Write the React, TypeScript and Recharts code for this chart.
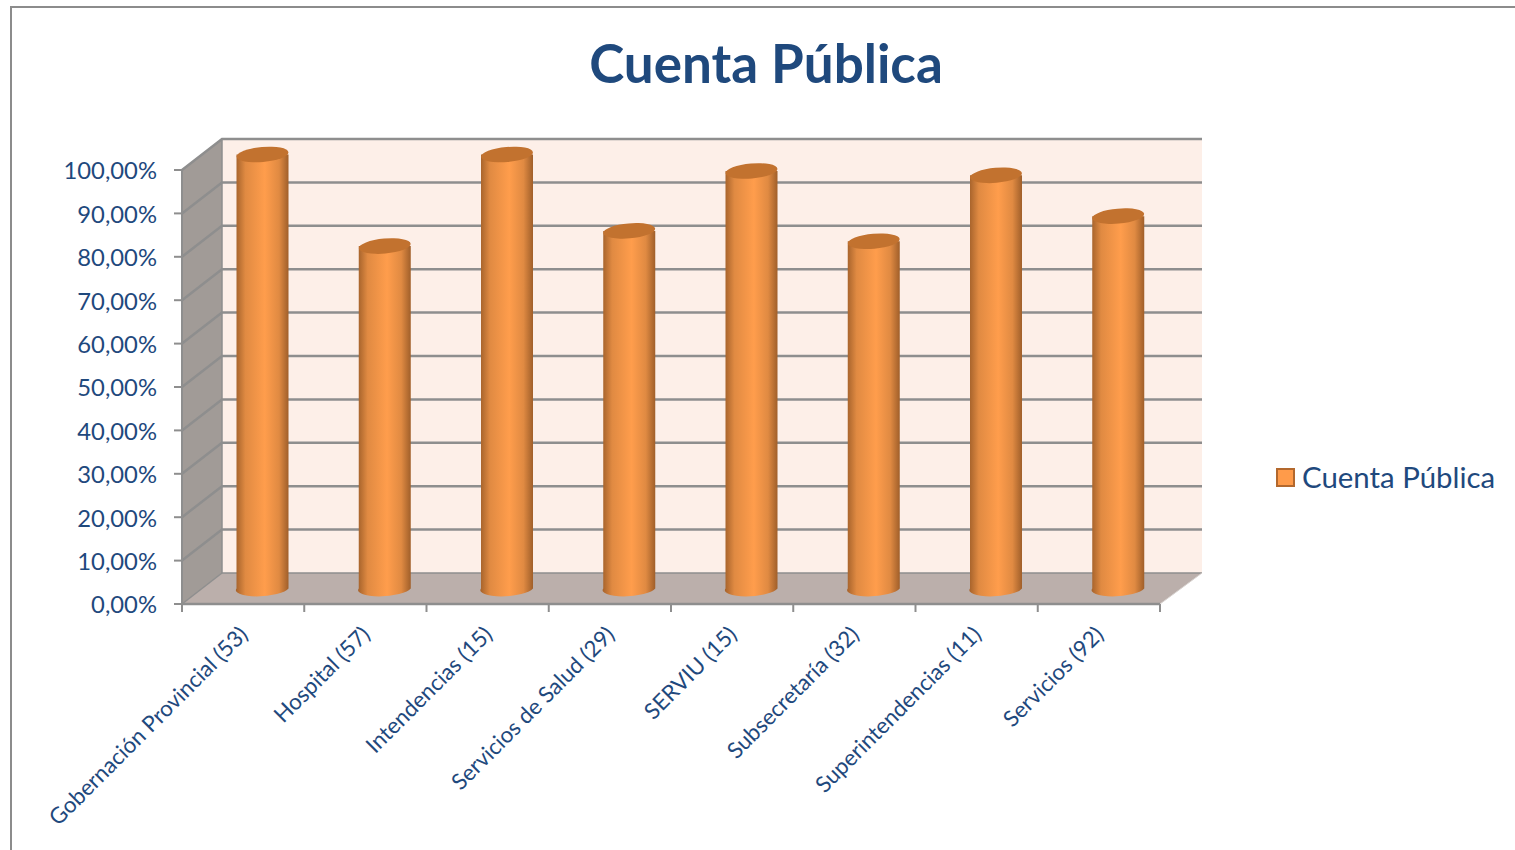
import React from "react";
import {
  BarChart,
  Bar,
  XAxis,
  YAxis,
  ReferenceArea,
} from "recharts";

const categories = [
  "Gobernación Provincial (53)",
  "Hospital (57)",
  "Intendencias (15)",
  "Servicios de Salud (29)",
  "SERVIU (15)",
  "Subsecretaría (32)",
  "Superintendencias (11)",
  "Servicios (92)",
];
const values = [100, 78.9, 100, 82.4, 96.2, 80, 95.2, 85.8];
const yTicks = [0, 10, 20, 30, 40, 50, 60, 70, 80, 90, 100];
const seriesName = "Cuenta Pública";

const data = categories.map((name, i) => ({ name, value: values[i] }));

const BLUE = "#1F497D";
const GRID = "#8E8E8E";
const FONT = "Lato, 'Open Sans', sans-serif";
const DEPTH_X = 40;
const DEPTH_Y = 31;
const PLOT_W = 978;
const BAND = PLOT_W / categories.length;

// side wall, floor, back wall and grid lines of the 3d box
const Walls = ({ x, y, width, height }: any) => {
  const b = y + height;
  const r = x + width;
  return (
    <g>
      <polygon
        points={`${x + DEPTH_X},${y - DEPTH_Y} ${r + DEPTH_X + 2},${y - DEPTH_Y} ${r + DEPTH_X + 2},${b - DEPTH_Y} ${x + DEPTH_X},${b - DEPTH_Y}`}
        fill="#FDEFE8"
      />
      <polygon
        points={`${x},${y} ${x + DEPTH_X},${y - DEPTH_Y} ${x + DEPTH_X},${b - DEPTH_Y} ${x},${b}`}
        fill="#A19B97"
      />
      <polygon
        points={`${x},${b} ${x + DEPTH_X},${b - DEPTH_Y} ${r + DEPTH_X + 2},${b - DEPTH_Y} ${r},${b}`}
        fill="#BBAFAB"
      />
      {yTicks.slice(1).map((t) => {
        const ty = b - (height * t) / 100;
        return (
          <polyline
            key={t}
            points={`${x},${ty} ${x + DEPTH_X},${ty - DEPTH_Y} ${r + DEPTH_X + 2},${ty - DEPTH_Y}`}
            fill="none"
            stroke={GRID}
            strokeWidth={2.5}
          />
        );
      })}
      <line x1={x + DEPTH_X} y1={y - DEPTH_Y} x2={x + DEPTH_X} y2={b - DEPTH_Y} stroke={GRID} strokeWidth={1.5} />
      <line x1={x + DEPTH_X} y1={b - DEPTH_Y} x2={r + DEPTH_X + 2} y2={b - DEPTH_Y} stroke={GRID} strokeWidth={1.5} />
      <line x1={x} y1={b} x2={x + DEPTH_X} y2={b - DEPTH_Y} stroke={GRID} strokeWidth={1.5} />
      <line x1={r} y1={b} x2={r + DEPTH_X + 2} y2={b - DEPTH_Y} stroke="#D8D2CF" strokeWidth={1} />
    </g>
  );
};

const Cylinder = ({ x, y, width, height }: any) => {
  const left = x + DEPTH_X / 2 - 0.5;
  const right = left + width;
  const cx = left + width / 2;
  const top = y - DEPTH_Y / 2;
  const bottom = y + height - DEPTH_Y / 2;
  const rx = width / 2;
  const ry = 7.5;
  return (
    <g>
      <path
        d={`M${left},${top} L${left},${bottom} A${rx},${ry} -4 0 0 ${right},${bottom} L${right},${top} Z`}
        fill="url(#cylinder)"
      />
      <ellipse
        cx={cx}
        cy={top}
        rx={rx}
        ry={ry}
        fill="#C2722F"
        transform={`rotate(-5 ${cx} ${top})`}
      />
    </g>
  );
};

const XTick = ({ x, y, payload, index }: any) => (
  <g>
    <line x1={x - BAND / 2} y1={604} x2={x - BAND / 2} y2={612} stroke={GRID} strokeWidth={2} />
    {index === categories.length - 1 && (
      <line x1={x + BAND / 2} y1={604} x2={x + BAND / 2} y2={612} stroke={GRID} strokeWidth={2} />
    )}
    <text
      x={x + 2}
      y={y + 20}
      transform={`rotate(-45 ${x + 2} ${y + 20})`}
      textAnchor="end"
      dominantBaseline="middle"
      fontFamily={FONT}
      fontSize={22.3}
      fill={BLUE}
    >
      {payload.value}
    </text>
  </g>
);

const LegendBox = () => (
  <div
    style={{
      position: "absolute",
      left: 1276,
      top: 457,
      display: "flex",
      alignItems: "center",
      fontFamily: FONT,
      fontSize: 29.4,
      lineHeight: "40px",
      color: BLUE,
      whiteSpace: "nowrap",
    }}
  >
    <span
      style={{
        display: "inline-block",
        width: 15,
        height: 15,
        marginRight: 7,
        background: "#FF9B4A",
        border: "2px solid #B3682D",
      }}
    />
    {seriesName}
  </div>
);

export default function App() {
  return (
    <div style={{ position: "absolute", left: 0, top: 0, width: 1515, height: 850, overflow: "hidden", background: "#fff" }}>
      <div
        style={{
          position: "absolute",
          left: 10,
          top: 6,
          width: 1520,
          height: 860,
          borderLeft: "2px solid #8C8C8C",
          borderTop: "2px solid #8C8C8C",
        }}
      />
      <div
        style={{
          position: "absolute",
          left: 0,
          width: 1532,
          top: 28,
          textAlign: "center",
          fontFamily: FONT,
          fontWeight: 700,
          fontSize: 53,
          lineHeight: "70px",
          color: BLUE,
        }}
      >
        Cuenta Pública
      </div>
      <div style={{ position: "absolute", left: 0, top: 0 }}>
        <BarChart
          width={1515}
          height={850}
          data={data}
          margin={{ top: 170, right: 355, left: 0, bottom: 0 }}
        >
          <defs>
            <linearGradient id="cylinder" x1="0" y1="0" x2="1" y2="0">
              <stop offset="0" stopColor="#A5622B" />
              <stop offset="0.18" stopColor="#E08A42" />
              <stop offset="0.55" stopColor="#FF9D4C" />
              <stop offset="0.82" stopColor="#E08A42" />
              <stop offset="1" stopColor="#A05F2A" />
            </linearGradient>
          </defs>
          <XAxis
            dataKey="name"
            height={246}
            interval={0}
            tickLine={false}
            axisLine={{ stroke: GRID, strokeWidth: 2.5 }}
            tick={<XTick />}
          />
          <YAxis
            width={182}
            domain={[0, 100]}
            ticks={yTicks}
            interval={0}
            tickSize={8}
            tickMargin={17}
            tickFormatter={(v: number) => `${v.toFixed(2).replace(".", ",")}%`}
            tick={{ fontFamily: FONT, fontSize: 23.8, fill: BLUE, dy: 1 }}
            tickLine={{ stroke: GRID, strokeWidth: 2 }}
            axisLine={{ stroke: GRID, strokeWidth: 2 }}
          />
          <ReferenceArea y1={0} y2={100} shape={<Walls />} />
          <Bar dataKey="value" name={seriesName} barSize={52} shape={<Cylinder />} isAnimationActive={false} />
        </BarChart>
      </div>
      <LegendBox />
    </div>
  );
}
